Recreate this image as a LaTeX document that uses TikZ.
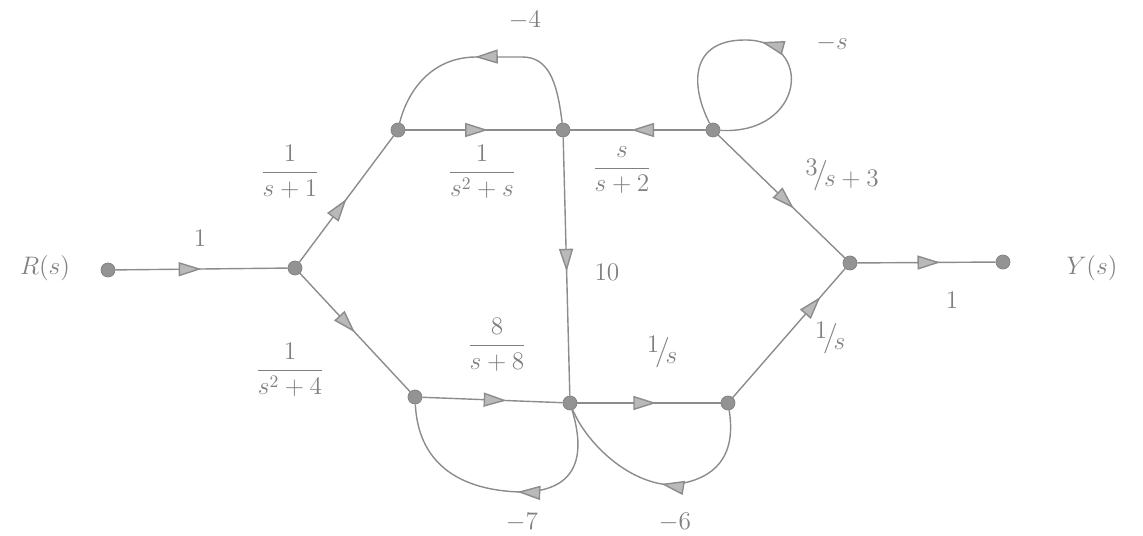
\documentclass[tikz,border=0pt]{standalone}
\usepackage{amsmath}
\usetikzlibrary{arrows.meta}
\usetikzlibrary{decorations.markings}

\newcommand{\slfrac}[2]{\raisebox{0.55ex}{$#1$}\!\big/\!\raisebox{-0.45ex}{$#2$}}

\tikzset{
  pt/.style={circle,fill=gray!85,draw=gray,inner sep=0pt,minimum size=8pt},
  lbl/.style={text=gray,font=\fontsize{14}{16}\selectfont,inner sep=1pt},
  br/.style={draw=gray!90,line width=0.8pt,postaction={decorate},
    decoration={markings,mark=at position #1 with
      {\arrow{Triangle[length=13pt,width=8pt,fill=gray!55]}}}},
  br/.default=0.55
}

\begin{document}
\begin{tikzpicture}[x=0.02cm,y=-0.02cm]
\useasboundingbox (0,0) rectangle (1143,536);

% nodes of the graph
\node[pt] (R) at (108,270) {};
\node[pt] (A) at (295,268) {};
\node[pt] (B) at (398,130) {};
\node[pt] (C) at (563,130) {};
\node[pt] (D) at (713,130) {};
\node[pt] (E) at (850,263) {};
\node[pt] (Y) at (1003,262) {};
\node[pt] (F) at (415,397) {};
\node[pt] (G) at (570,403) {};
\node[pt] (H) at (728,403) {};

% forward branches
\draw[br=0.5]  (R) -- (A);
\draw[br=0.5]  (A) -- (B);
\draw[br=0.5]  (A) -- (F);
\draw[br=0.55] (B) -- (C);
\draw[br=0.55] (D) -- (C);
\draw[br=0.6]  (D) -- (E);
\draw[br=0.52] (C) -- (G);
\draw[br=0.6]  (F) -- (G);
\draw[br=0.55] (G) -- (H);
\draw[br=0.78] (H) -- (E);
\draw[br=0.6]  (E) -- (Y);

% loops
\draw[br=0.55] (C) .. controls (557,80) and (548,57) .. (522,57)
  -- (475,57) .. controls (425,58) and (405,100) .. (B);
\draw[br=0.53] (D) .. controls (805,135) and (815,40) .. (745,40)
  .. controls (690,40) and (690,85) .. (D);
\draw[br=0.45] (G) .. controls (590,470) and (565,492) .. (520,492)
  .. controls (455,490) and (418,460) .. (F);
\draw[br=0.5]  (H) .. controls (738,465) and (705,482) .. (670,485)
  .. controls (625,482) and (585,440) .. (G);

% gains
\node[lbl] (gRA) at (200,238) {$1$};
\node[lbl] (gAB) at (290,172) {$\dfrac{1}{s+1}$};
\node[lbl] (gAF) at (290,370) {$\dfrac{1}{s^2+4}$};
\node[lbl] (gBC) at (482,172) {$\dfrac{1}{s^2+s}$};
\node[lbl] (gDC) at (622,170) {$\dfrac{s}{s+2}$};
\node[lbl] (gDE) at (842,175) {\slfrac{3}{s+3}};
\node[lbl] (gCG) at (607,272) {$10$};
\node[lbl] (gFG) at (497,345) {$\dfrac{8}{s+8}$};
\node[lbl] (gGH) at (662,352) {\slfrac{1}{s}};
\node[lbl] (gHE) at (830,338) {\slfrac{1}{s}};
\node[lbl] (gEY) at (952,300) {$1$};
\node[lbl] (gC)  at (525,20)  {$-4$};
\node[lbl] (gD)  at (832,43)  {$-s$};
\node[lbl] (gF)  at (522,522) {$-7$};
\node[lbl] (gH)  at (675,522) {$-6$};

% input and output
\node[lbl] (in)  at (45,268)   {$R(s)$};
\node[lbl] (out) at (1092,268) {$Y(s)$};
\end{tikzpicture}
\end{document}
